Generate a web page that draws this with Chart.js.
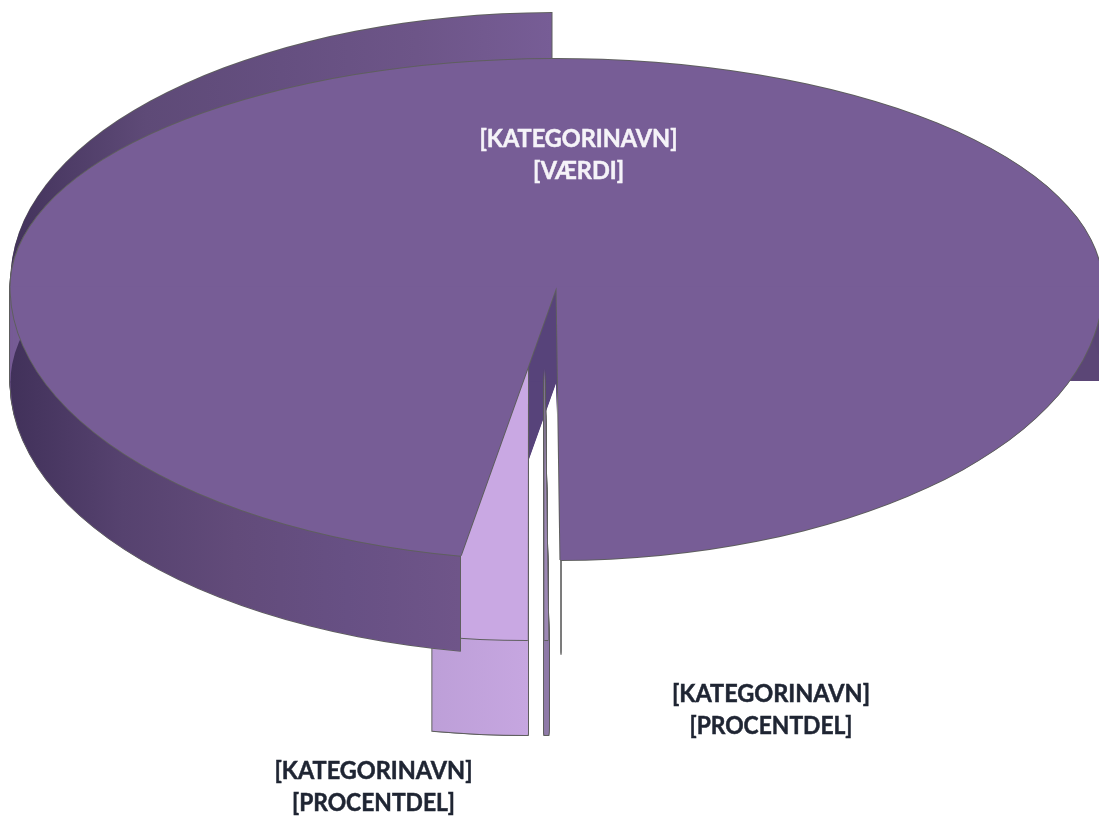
<!DOCTYPE html>
<html>
<head>
<meta charset="utf-8">
<title>Lagkage</title>
<style>
  html, body { margin: 0; padding: 0; background: #fff; }
  canvas { display: block; }
</style>
<script src="https://cdn.jsdelivr.net/npm/chart.js@4"></script>
</head>
<body>
<canvas id="pie" width="1099" height="819"></canvas>
<script>
// values (share of the pie in percent)
const categories = ['Hoved', 'Lille', 'Mellem']
const shares = [97.08, 0.12, 2.8]
const labelLines = [
  ['[KATEGORINAVN]', '[VÆRDI]'],
  ['[KATEGORINAVN]', '[PROCENTDEL]'],
  ['[KATEGORINAVN]', '[PROCENTDEL]']
]

// look of the fake 3D pie
const CX = 556.5, CY = 287, RX = 546, RY_TOP = 228, RY_BOTTOM = 273
const DEPTH = 95, BACK_DROP = -7, BACK_RY = 267
const EDGE = '#5f5f5f'
const explode = [[0, 0], [-12, 80], [-28.5, 80]]
const textFit = { '[KATEGORINAVN]': 198, '[VÆRDI]': 91, '[PROCENTDEL]': 163 }

function clipped(ctx, x, y, w, h, fn) {
  ctx.save()
  ctx.beginPath()
  ctx.rect(x, y, w, h)
  ctx.clip()
  fn()
  ctx.restore()
}

// draws the library's arc element, squashed to an ellipse and moved by dx, dy
function paint(ctx, arc, fill, dx, dy, ryTop) {
  const piece = Object.create(arc)
  piece.options = Object.assign({}, arc.options, { backgroundColor: fill, borderWidth: 0 })
  const sx = RX / arc.outerRadius
  const mid = CY + dy
  ;[[-10, mid + 0.5 + 10, ryTop || RY_TOP], [mid - 0.5, 2000, RY_BOTTOM]].forEach(function (part) {
    ctx.save()
    ctx.beginPath()
    ctx.rect(-2000, part[0], 6000, part[1])
    ctx.clip()
    ctx.translate(CX + dx, CY + dy)
    ctx.scale(sx, part[2] / arc.outerRadius)
    ctx.translate(-arc.x, -arc.y)
    piece.draw(ctx)
    ctx.restore()
  })
}

function sweep(ctx, arc, fill, dx, dy, depth) {
  for (let d = 0; d <= depth; d++) paint(ctx, arc, fill, dx, dy + d)
}

function outlined(ctx, arc, fill, dx, dy) {
  paint(ctx, arc, EDGE, dx - 1, dy)
  paint(ctx, arc, EDGE, dx + 1, dy)
  paint(ctx, arc, EDGE, dx, dy - 1)
  paint(ctx, arc, EDGE, dx, dy + 1)
  paint(ctx, arc, fill, dx, dy)
}

// horizontal gradient given in page pixels, mapped into the arc's own space
function wallGradient(ctx, arc, dx, x0, x1, stops) {
  const sx = RX / arc.outerRadius
  const g = ctx.createLinearGradient(
    arc.x + (x0 - CX - dx) / sx, 0,
    arc.x + (x1 - CX - dx) / sx, 0)
  stops.forEach(function (s, i) { g.addColorStop(i / (stops.length - 1), s) })
  return g
}

function sliceWithWall(ctx, arc, dx, dy, topFill, wallFill) {
  sweep(ctx, arc, EDGE, dx - 1, dy, DEPTH + 1)
  sweep(ctx, arc, EDGE, dx + 1, dy, DEPTH + 1)
  sweep(ctx, arc, wallFill, dx, dy, DEPTH)
  outlined(ctx, arc, topFill, dx, dy)
}

const fakePie = {
  id: 'fakePie',
  beforeDatasetsDraw(chart) {
    const ctx = chart.ctx
    const arcs = chart.getDatasetMeta(0).data
    const main = arcs[0], thin = arcs[1], mid = arcs[2]

    // back wall, sticks up behind the big slice
    clipped(ctx, 0, 0, 552.5, 819, function () {
      paint(ctx, main, EDGE, 0, BACK_DROP - 1, BACK_RY)
    })
    clipped(ctx, 0, 0, 551.5, 819, function () {
      paint(ctx, main, wallGradient(ctx, main, 0, 10, 552, ['#42325b', '#5e4a77', '#654f80', '#6d5588', '#775d96']), 0, BACK_DROP, BACK_RY)
    })

    // inner cut of the big slice, seen through the gap
    clipped(ctx, 461, 0, 95.5, 819, function () {
      sweep(ctx, main, '#57437a', 0, 0, DEPTH)
    })
    // thin edge line at the right of the gap
    clipped(ctx, 560, 0, 1.6, 655, function () {
      sweep(ctx, main, '#7d7d7d', 0, 0, DEPTH)
    })

    // the two pulled out slices
    sliceWithWall(ctx, mid, explode[2][0], explode[2][1], '#c9a8e3',
      wallGradient(ctx, mid, explode[2][0], 432, 528, ['#bd9fd8', '#c6a6e0']))
    sliceWithWall(ctx, thin, explode[1][0], explode[1][1], '#9c87b4', '#8f7aa8')

    // left wall of the big slice
    clipped(ctx, 0, 0, 461, 819, function () {
      sweep(ctx, main, EDGE, -1, 0, DEPTH)
      sweep(ctx, main, EDGE, 0, 1, DEPTH)
    })
    clipped(ctx, 0, 0, 460, 819, function () {
      sweep(ctx, main, '#775d96', 0, 0, DEPTH)
      paint(ctx, main, wallGradient(ctx, main, 0, 10, 460, ['#41315a', '#56426f', '#624b7a', '#675084', '#6f5589']), 0, DEPTH)
    })
    // right wall stops flat
    clipped(ctx, 1000, 0, 99, 381, function () {
      sweep(ctx, main, '#5b4676', 0, 0, DEPTH)
    })

    outlined(ctx, main, '#775d96', 0, 0)
    return false
  },
  afterDraw(chart) {
    const ctx = chart.ctx
    const spots = [[578.5, 147, '#f5f3f8'], [771, 702, '#1f2533'], [373.5, 779, '#1f2533']]
    ctx.save()
    ctx.font = 'bold 24px Lato'
    ctx.textAlign = 'center'
    ctx.textBaseline = 'alphabetic'
    ctx.lineWidth = 0.5
    labelLines.forEach(function (lines, i) {
      ctx.fillStyle = spots[i][2]
      ctx.strokeStyle = spots[i][2]
      lines.forEach(function (line, n) {
        ctx.fillText(line, spots[i][0], spots[i][1] + n * 32, textFit[line])
        ctx.strokeText(line, spots[i][0], spots[i][1] + n * 32, textFit[line])
      })
    })
    ctx.restore()
  }
}

new Chart(document.getElementById('pie').getContext('2d'), {
  type: 'pie',
  data: {
    labels: categories,
    datasets: [{
      data: shares,
      backgroundColor: ['#775d96', '#9c87b4', '#c9a8e3'],
      borderWidth: 0,
      hoverOffset: 0
    }]
  },
  options: {
    responsive: false,
    animation: false,
    rotation: 190.1,
    plugins: { legend: { display: false }, tooltip: { enabled: false } }
  },
  plugins: [fakePie]
})
</script>
</body>
</html>
